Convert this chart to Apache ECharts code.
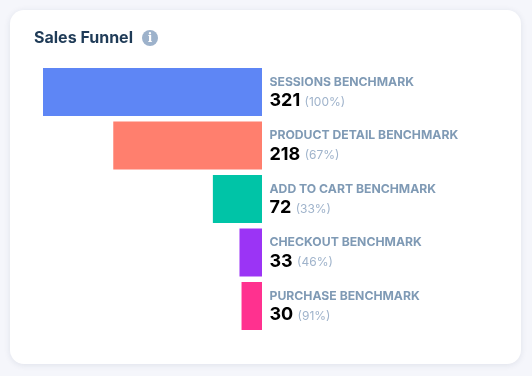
<!DOCTYPE html>
<html><head><meta charset="utf-8">
<style>html,body{margin:0;padding:0;background:#f5f6fb}#c{width:532px;height:376px}</style>
<script src="https://cdn.jsdelivr.net/npm/echarts@6/dist/echarts.min.js"></script>
</head><body><div id="c"></div>
<script>
const stages = ['SESSIONS BENCHMARK','PRODUCT DETAIL BENCHMARK','ADD TO CART BENCHMARK','CHECKOUT BENCHMARK','PURCHASE BENCHMARK'];
const values = [321,218,72,33,30];
const percents = ['100%','67%','33%','46%','91%'];
const colors = ['#5E86F5','#FF7F6E','#00C4A7','#9B34F5','#FF318F'];
const font = 'Inter';
const chart = echarts.init(document.getElementById('c'), null, {renderer:'canvas'});
chart.setOption({
  animation:false,
  backgroundColor:'#f5f6fb',
  title:{text:'Sales Funnel',left:29,top:24.5,textStyle:{fontFamily:font,fontSize:16,fontWeight:700,color:'#1f3b57',lineHeight:18}},
  graphic:[
    {type:'rect',z:-10,silent:true,shape:{x:10,y:10,width:511,height:354,r:14},
      style:{fill:'#fff',shadowBlur:6,shadowColor:'rgba(30,50,90,0.10)',shadowOffsetY:1}},
    {type:'circle',z:5,silent:true,shape:{cx:150,cy:38,r:8},style:{fill:'#9db2cb'}},
    {type:'text',z:6,silent:true,style:{x:150,y:38.5,text:'i',fill:'#fff',align:'center',verticalAlign:'middle',
      font:'800 12px "DejaVu Serif"'}}
  ],
  grid:{left:43,top:65.25,width:219,height:267.5,containLabel:false},
  xAxis:{type:'value',inverse:true,min:0,max:321,show:false},
  yAxis:{type:'category',inverse:true,position:'right',data:stages,
    axisLine:{show:false},axisTick:{show:false},
    axisLabel:{show:true,margin:7.5,align:'left',interval:0,
      formatter:(v,i)=>`{name|${v}}\n{val|${values[i]}} {pct|(${percents[i]})}`,
      rich:{
        name:{fontFamily:font,fontSize:12.2,fontWeight:700,color:'#7f9ab5',lineHeight:18,height:18},
        val:{fontFamily:font,fontSize:18,fontWeight:700,color:'#000',lineHeight:20},
        pct:{fontFamily:font,fontSize:12,color:'#9fb3cb',lineHeight:20,padding:[2,0,0,1]}
      }}},
  series:[{type:'bar',barWidth:48,data:values.map((v,i)=>({value:v,itemStyle:{color:colors[i]}}))}]
});
</script></body></html>
